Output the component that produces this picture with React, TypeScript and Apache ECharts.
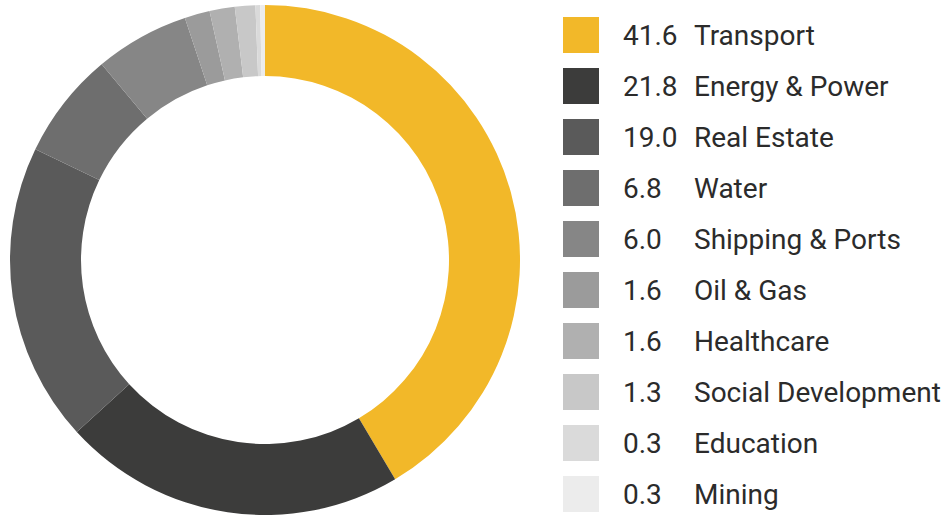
import React, { useEffect, useRef } from "react";
import * as echarts from "echarts";

const categories = [
  "Transport",
  "Energy & Power",
  "Real Estate",
  "Water",
  "Shipping & Ports",
  "Oil & Gas",
  "Healthcare",
  "Social Development",
  "Education",
  "Mining",
];
const values = [41.6, 21.8, 19.0, 6.8, 6.0, 1.6, 1.6, 1.3, 0.3, 0.3];
const colors = [
  "#f2b829",
  "#3c3c3b",
  "#5a5a5a",
  "#6e6e6e",
  "#868686",
  "#9b9b9b",
  "#b0b0b0",
  "#c8c8c8",
  "#dadada",
  "#ececec",
];

export default function App() {
  const ref = useRef<HTMLDivElement>(null);
  useEffect(() => {
    document.body.style.margin = "0";
    const chart = echarts.init(ref.current!, null, { renderer: "svg" });
    const font = "Roboto";
    chart.setOption({
      animation: false,
      color: colors,
      legend: {
        orient: "vertical",
        left: 563,
        top: 17,
        padding: 0,
        itemWidth: 36,
        itemHeight: 36,
        itemGap: 15,
        icon: "rect",
        selectedMode: false,
        data: categories,
        formatter: (name: string) => {
          const i = categories.indexOf(name);
          return `{v|${values[i].toFixed(1)}}{n|${name}}`;
        },
        textStyle: {
          fontFamily: font,
          fontSize: 28,
          color: "#2b2b2b",
          rich: {
            v: { fontFamily: font, fontSize: 28, color: "#2b2b2b", width: 71, padding: [0, 0, 0, 19] },
            n: { fontFamily: font, fontSize: 28, color: "#2b2b2b" },
          },
        },
      },
      series: [
        {
          type: "pie",
          center: [265, 260],
          radius: [184, 255],
          startAngle: 90,
          clockwise: true,
          label: { show: false },
          labelLine: { show: false },
          emphasis: { disabled: true },
          itemStyle: { borderWidth: 0 },
          data: categories.map((c, i) => ({ name: c, value: values[i] })),
        },
      ],
    });
    return () => chart.dispose();
  }, []);
  return (
    <div
      ref={ref}
      style={{ position: "absolute", left: 0, top: 0, width: 950, height: 515, background: "#fff" }}
    />
  );
}
